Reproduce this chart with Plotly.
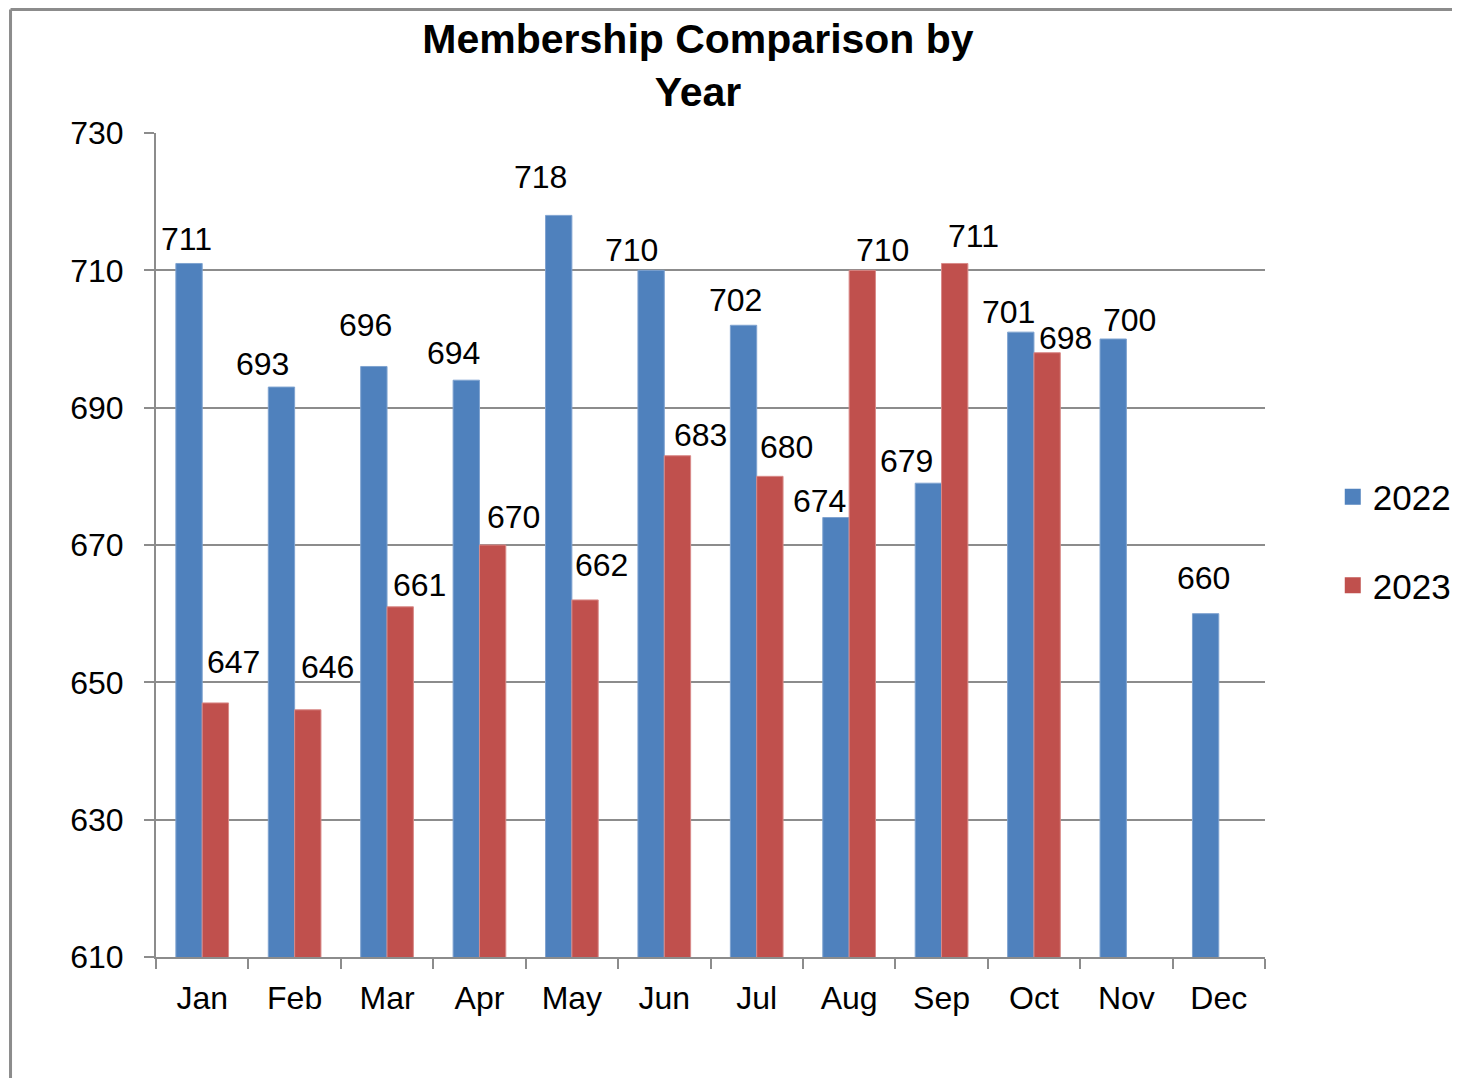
import plotly.graph_objects as go

months = ["Jan", "Feb", "Mar", "Apr", "May", "Jun", "Jul", "Aug", "Sep", "Oct", "Nov", "Dec"]
members_2022 = [711, 693, 696, 694, 718, 710, 702, 674, 679, 701, 700, 660]
members_2023 = [647, 646, 661, 670, 662, 683, 680, 710, 711, 698, None, None]
y_ticks = [610, 630, 650, 670, 690, 710, 730]

# label placement styling (pixel shifts, mimicking the original layout)
shift_x_2022 = [-16, -32, -22, -26, -31, -33, -21, -30, -35, -25, 3, -15]
shift_y_2022 = [24, 23, 41, 27, 38, 20, 25, 17, 22, 20, 19, 36]
shift_x_2023 = [31, 33, 32, 34, 30, 36, 30, 33, 32, 32, 0, 0]
shift_y_2023 = [41, 43, 22, 28, 35, 21, 29, 20, 27, 15, 0, 0]

BLUE = "#4F81BD"
RED = "#C0504D"
GRAY = "#8C8C8C"
FONT = "Liberation Sans, Arial, sans-serif"

OFF = 8  # page body margin
W, H = 1460, 1078
ML, MT = 156 - OFF, 133 - OFF
MR = W - (1269 - OFF)
MB = H - (957 - OFF)
PW, PH = W - ML - MR, H - MT - MB

fig = go.Figure()
fig.add_trace(go.Bar(x=months, y=members_2022, name="2022", marker=dict(color=BLUE, line=dict(color="#7FA3D0", width=1)),
                     showlegend=False, cliponaxis=False))
fig.add_trace(go.Bar(x=months, y=members_2023, name="2023", marker=dict(color=RED, line=dict(color="#D98A88", width=1)),
                     showlegend=False, cliponaxis=False))

# legend entries
fig.add_trace(go.Scatter(x=[None], y=[None], mode="markers", name="2022", legendgroup="a",
                         marker=dict(symbol="square", size=16, color=BLUE)))
fig.add_trace(go.Scatter(x=[None], y=[None], mode="markers", name="2023", legendgroup="b",
                         marker=dict(symbol="square", size=16, color=RED)))

annotations = []
for m, v, sx, sy in zip(months, members_2022, shift_x_2022, shift_y_2022):
    annotations.append(dict(x=m, y=v, text=str(v), showarrow=False, xshift=sx, yshift=sy,
                            xanchor="center", yanchor="middle", font=dict(size=32, color="black", family=FONT)))
for m, v, sx, sy in zip(months, members_2023, shift_x_2023, shift_y_2023):
    if v is None:
        continue
    annotations.append(dict(x=m, y=v, text=str(v), showarrow=False, xshift=sx, yshift=sy,
                            xanchor="center", yanchor="middle", font=dict(size=32, color="black", family=FONT)))

# screen pixel -> paper coords (relative to plot area)
def px_to_paper_x(px):
    return (px - OFF - ML) / PW

def px_to_paper_y(py):
    return (H - MB - (py - OFF)) / PH

shapes = [
    dict(type="line", xref="paper", yref="paper", x0=px_to_paper_x(10), x1=px_to_paper_x(10),
         y0=px_to_paper_y(9.5), y1=px_to_paper_y(H + 20), line=dict(color=GRAY, width=3)),
    dict(type="line", xref="paper", yref="paper", x0=px_to_paper_x(10), x1=px_to_paper_x(W + 20),
         y0=px_to_paper_y(9.5), y1=px_to_paper_y(9.5), line=dict(color=GRAY, width=3)),
]

fig.update_layout(
    width=W, height=H,
    margin=dict(l=ML, r=MR, t=MT, b=MB),
    paper_bgcolor="white", plot_bgcolor="white",
    barmode="group", bargap=0.43, bargroupgap=0,
    font=dict(family=FONT, color="black"),
    title=dict(text="<b>Membership Comparison by<br>Year</b>", x=(698 - OFF) / W, xanchor="center",
               y=1 - (53 - OFF) / H, yanchor="middle", font=dict(size=41, family=FONT, color="black")),
    legend=dict(x=px_to_paper_x(1337), xanchor="left", y=px_to_paper_y(541), yanchor="middle",
                font=dict(size=35, family=FONT, color="black"), traceorder="grouped",
                tracegroupgap=40, bgcolor="rgba(0,0,0,0)"),
    annotations=annotations,
    shapes=shapes,
    showlegend=True,
)
fig.update_xaxes(
    type="category", showgrid=False, showline=True, linecolor=GRAY, linewidth=2,
    ticks="outside", tickson="boundaries", ticklen=10, tickwidth=2, tickcolor=GRAY,
    tickfont=dict(size=32, family=FONT, color="black"), ticklabelstandoff=12,
    range=[-0.5, 11.5],
)
fig.update_yaxes(
    range=[610, 730], tickvals=y_ticks, showgrid=True, gridcolor=GRAY, gridwidth=2,
    showline=True, linecolor=GRAY, linewidth=2, ticks="outside", ticklen=10, tickwidth=2,
    tickcolor=GRAY, tickfont=dict(size=32, family=FONT, color="black"), ticklabelstandoff=14,
    zeroline=False,
)

fig.write_html("out.html")
